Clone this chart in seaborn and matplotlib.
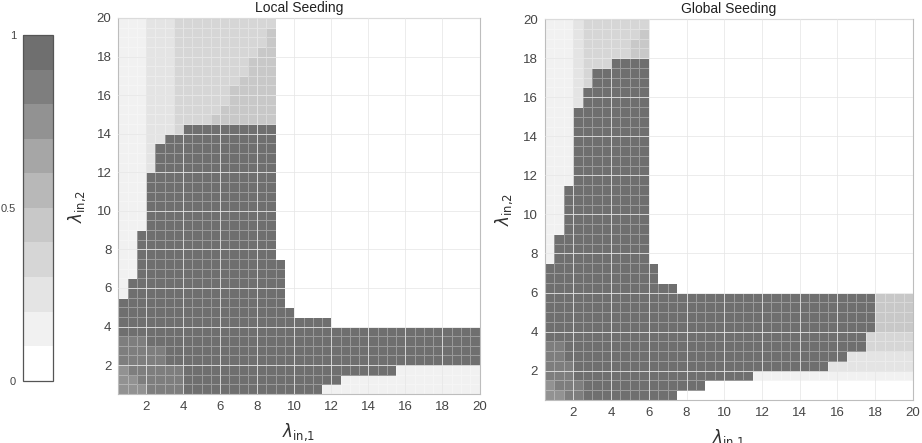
import numpy as np
import matplotlib
matplotlib.use("Agg")
import matplotlib.pyplot as plt
import seaborn as sns
from matplotlib.colors import ListedColormap

sns.set_style("white")
plt.rcParams["font.family"] = ["Liberation Sans", "DejaVu Sans"]

# --- data (per column of lambda_in,1, lower cell edge 0.5 ... 19.5) ---
lam = np.arange(0.5, 20.0, 0.5)
ticks = [2, 4, 6, 8, 10, 12, 14, 16, 18, 20]

# gray shade of each of the 10 colour levels (0 = white ... 9 = darkest)
gray_levels = [255, 241, 228, 214, 200, 184, 166, 146, 126, 111]

# Local seeding
local_dark_top = [5.5, 6.5, 9.0, 12.0, 13.5, 14.0, 14.0,
                  14.5, 14.5, 14.5, 14.5, 14.5, 14.5, 14.5, 14.5, 14.5, 14.5,
                  7.5, 5.0, 4.5, 4.5, 4.5, 4.5,
                  4.0, 4.0, 4.0, 4.0, 4.0, 4.0, 4.0, 4.0, 4.0, 4.0, 4.0, 4.0, 4.0, 4.0, 4.0, 4.0]
local_dark_bottom = [0.5, 0.5, 0.5, 0.5, 0.5, 0.5, 0.5, 0.5, 0.5, 0.5, 0.5,
                     0.5, 0.5, 0.5, 0.5, 0.5, 0.5, 0.5, 0.5, 0.5, 0.5, 0.5,
                     1.0, 1.0, 1.5, 1.5, 1.5, 1.5, 1.5, 1.5,
                     2.0, 2.0, 2.0, 2.0, 2.0, 2.0, 2.0, 2.0, 2.0]
local_above = [1, 1, 1, 2, 2, 2, 3, 3, 3, 3, 3, 3, 3, 3, 3, 3, 3,
               0, 0, 0, 0, 0, 0, 0, 0, 0, 0, 0, 0, 0, 0, 0, 0, 0, 0, 0, 0, 0, 0]
local_band_top = [0, 0, 0, 0, 0, 0, 0, 0, 0, 0,
                  15.0, 15.5, 16.5, 17.0, 18.0, 18.5, 19.5,
                  0, 0, 0, 0, 0, 0, 0, 0, 0, 0, 0, 0, 0, 0, 0, 0, 0, 0, 0, 0, 0, 0]
local_pale_top = [3.5, 3.5, 3.5, 3.0, 3.0, 2.0, 2.0] + [0.5] * 32
local_corner_top = [2.0, 1.5, 1.0] + [0.5] * 36
local_fringe_start = [0.5] * 39
local_fringe_edges = [0.5, 20.0]
local_fringe_levels = [1]

# Global seeding
global_dark_top = [7.5, 9.0, 11.5, 15.5, 16.5, 17.5, 17.5, 18.0, 18.0, 18.0, 18.0,
                   7.5, 6.5, 6.5,
                   6.0, 6.0, 6.0, 6.0, 6.0, 6.0, 6.0, 6.0, 6.0, 6.0, 6.0, 6.0, 6.0,
                   6.0, 6.0, 6.0, 6.0, 6.0, 6.0, 6.0, 6.0, 6.0, 6.0, 6.0, 6.0]
global_dark_bottom = [0.5, 0.5, 0.5, 0.5, 0.5, 0.5, 0.5, 0.5, 0.5, 0.5, 0.5, 0.5, 0.5, 0.5,
                      1.0, 1.0, 1.0, 1.5, 1.5, 1.5, 1.5, 1.5,
                      2.0, 2.0, 2.0, 2.0, 2.0, 2.0, 2.0, 2.0,
                      2.5, 2.5, 3.0, 3.0, 4.0, 6.0, 6.0, 6.0, 6.0]
global_above = [1, 1, 1, 2, 3, 3, 3, 3, 3, 3, 3,
                0, 0, 0, 0, 0, 0, 0, 0, 0, 0, 0, 0, 0, 0, 0, 0, 0, 0, 0, 0, 0, 0, 0, 0, 0, 0, 0, 0]
global_band_top = [0, 0, 0, 0, 0, 0, 0, 0, 0, 19.0, 19.5,
                   0, 0, 0, 0, 0, 0, 0, 0, 0, 0, 0, 0, 0, 0, 0, 0, 0, 0, 0, 0, 0, 0, 0, 0, 0, 0, 0, 0]
global_pale_top = [3.5, 3.5, 2.5, 1.5] + [0.5] * 35
global_corner_top = [1.5, 1.0] + [0.5] * 37
global_fringe_start = [20.0] * 22 + [1.5] * 17
global_fringe_edges = [1.5, 2.0, 3.0, 4.0, 6.0]
global_fringe_levels = [1, 2, 3, 4]


def build(dark_bot, dark_top, above, band_top, pale_top, corner_top,
          fringe_start, fringe_edges, fringe_levels):
    n = len(lam)
    L = np.zeros((n, n), dtype=int)
    for c in range(n):
        y = lam
        L[y >= dark_top[c], c] = above[c]
        L[(y >= dark_top[c]) & (y < band_top[c]), c] = 4
        L[(y >= dark_bot[c]) & (y < dark_top[c]), c] = 9
        L[y < pale_top[c], c] = 8
        L[y < corner_top[c], c] = 7
        fr = (y >= fringe_start[c]) & (y < dark_bot[c])
        idx = np.clip(np.digitize(y[fr], fringe_edges) - 1, 0, len(fringe_levels) - 1)
        L[fr, c] = np.array(fringe_levels)[idx]
    return (L + 0.5) / 10.0


local_z = build(local_dark_bottom, local_dark_top, local_above, local_band_top,
                local_pale_top, local_corner_top, local_fringe_start,
                local_fringe_edges, local_fringe_levels)
global_z = build(global_dark_bottom, global_dark_top, global_above, global_band_top,
                 global_pale_top, global_corner_top, global_fringe_start,
                 global_fringe_edges, global_fringe_levels)

cmap = ListedColormap([(g / 255, g / 255, g / 255) for g in gray_levels])

fig = plt.figure(figsize=(9.22, 4.43), dpi=100)
cax = fig.add_axes([0.0249, 0.1406, 0.0325, 0.780])
ax1 = fig.add_axes([0.1283, 0.1106, 0.3918, 0.8488])
ax2 = fig.add_axes([0.5911, 0.097, 0.3991, 0.860])


def to_cell(v):
    return (np.asarray(v, dtype=float) - lam[0]) / 0.5


edge = (1, 1, 1, 0.3)
sns.heatmap(local_z, ax=ax1, cmap=cmap, vmin=0, vmax=1, cbar=True, cbar_ax=cax,
            cbar_kws={"ticks": [0, 0.5, 1]}, linewidths=0.4, linecolor=edge,
            xticklabels=False, yticklabels=False)
sns.heatmap(global_z, ax=ax2, cmap=cmap, vmin=0, vmax=1, cbar=False,
            linewidths=0.4, linecolor=edge, xticklabels=False, yticklabels=False)

for ax, title in [(ax1, "Local Seeding"), (ax2, "Global Seeding")]:
    n = len(lam)
    ax.set_xlim(0, n)
    ax.set_ylim(0, n)
    ax.set_xticks(to_cell(ticks))
    ax.set_xticklabels([str(t) for t in ticks])
    ax.set_yticks(to_cell(ticks))
    ax.set_yticklabels([str(t) for t in ticks], rotation=0)
    ax.tick_params(direction="in", length=3, width=0.6, colors="#b0b0b0",
                   labelcolor="#454545", labelsize=9.5, pad=5)
    for s in ax.spines.values():
        s.set_visible(True)
        s.set_color("#bdbdbd")
        s.set_linewidth(0.8)
    ax.grid(True, color="#e6e6e6", linewidth=0.6, alpha=0.9)
    ax.set_axisbelow(False)
    ax.set_title(title, fontsize=10, color="#202020", pad=4)
    ax.set_xlabel(r"$\lambda_{\mathrm{in{,}1}}$", fontsize=12, color="#303030", labelpad=6)
    ax.set_ylabel(r"$\lambda_{\mathrm{in{,}2}}$", fontsize=12, color="#303030", labelpad=6)

cbar = ax1.collections[0].colorbar
cbar.ax.yaxis.set_ticks_position("left")
cbar.set_ticks([0, 0.5, 1])
cbar.set_ticklabels(["0", "0.5", "1"])
cbar.ax.tick_params(direction="in", length=0, labelsize=8, labelcolor="#454545", pad=5)
cbar.outline.set_edgecolor("#555555")
cbar.outline.set_linewidth(0.9)

fig.savefig("out.png", dpi=100)
